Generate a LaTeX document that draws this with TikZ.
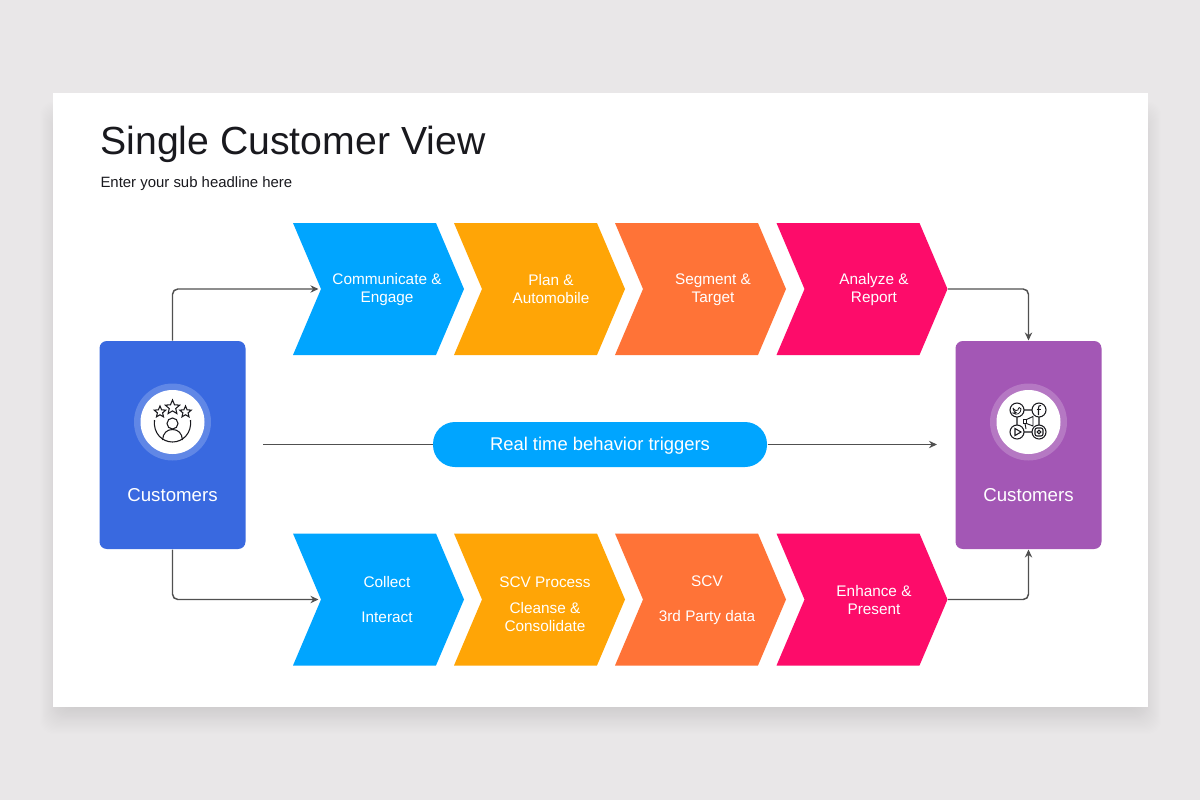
\documentclass[tikz,border=0pt]{standalone}
\usepackage{fontspec}
\setmainfont{Liberation Sans}
\usetikzlibrary{shapes.symbols,shapes.geometric,arrows.meta}

\definecolor{pagegrey}{RGB}{233,231,232}
\definecolor{shadowdark}{RGB}{208,206,207}
\definecolor{custblue}{RGB}{57,105,224}
\definecolor{custpurple}{RGB}{163,87,181}
\definecolor{skyblue}{RGB}{0,165,255}
\definecolor{amber}{RGB}{255,165,6}
\definecolor{coral}{RGB}{255,115,55}
\definecolor{magenta2}{RGB}{253,12,106}
\definecolor{linegrey}{RGB}{80,80,80}
\definecolor{inkblack}{RGB}{25,25,30}

\tikzset{
  every picture/.style={line width=0.75pt},
  chevron/.style={shape=signal,signal from=west,signal to=east,signal pointer angle=134,
    minimum width=171*0.75pt,minimum height=132*0.75pt,inner sep=0pt,draw=none},
  chevlabel/.style={text=white,font=\fontsize{11.5}{13.5}\selectfont,align=center,inner sep=0pt},
  custcard/.style={draw=none,rounded corners=5.5pt,minimum width=146*0.75pt,minimum height=208*0.75pt,inner sep=0pt},
  cardlabel/.style={text=white,font=\fontsize{14}{16}\selectfont,inner sep=0pt},
  flow/.style={draw=linegrey,line width=1.1pt,rounded corners=4pt},
  flowtip/.style={flow,-{Stealth[length=6pt,width=5.5pt]}},
  icon/.style={draw=inkblack,line width=0.8pt,fill=none},
}

\begin{document}
\begin{tikzpicture}[x=0.75pt,y=0.75pt,yscale=-1,xscale=1]

\useasboundingbox (0,0) rectangle (1200,800);
\fill [pagegrey] (0,0) rectangle (1200,800);

% sheet and its shadow
\foreach \g [evaluate=\g as \p using {100-100*\g/24}] in {24,23,...,0}
  \fill [shadowdark!\p!pagegrey,rounded corners=10pt] (61-0.9*\g,125-\g) rectangle (1140+0.9*\g,707+1.15*\g);
\fill [white] (53,93) rectangle (1148,707);

\node [anchor=west,inner sep=0pt,text=inkblack,font=\fontsize{29.4}{34}\selectfont] (title) at (100,144) {Single Customer View};
\node [anchor=west,inner sep=0pt,text=inkblack,font=\fontsize{11.2}{13}\selectfont] (subhead) at (100,184) {Enter your sub headline here};

% top row
\node [chevron,fill=skyblue] (comm) at (378.5,289) {};
\node [chevron,fill=amber] (plan) at (539.5,289) {};
\node [chevron,fill=coral] (segment) at (700.5,289) {};
\node [chevron,fill=magenta2] (analyze) at (862,289) {};

% bottom row
\node [chevron,fill=skyblue] (collect) at (378.5,599.5) {};
\node [chevron,fill=amber] (scvproc) at (539.5,599.5) {};
\node [chevron,fill=coral] (scvdata) at (700.5,599.5) {};
\node [chevron,fill=magenta2] (enhance) at (862,599.5) {};

\node [chevlabel] (commtext) at (387,290) {Communicate \&\\Engage};
\node [chevlabel] (plantext) at (551,289.5) {Plan \&\\Automobile};
\node [chevlabel] (segmenttext) at (713,290) {Segment \&\\Target};
\node [chevlabel] (analyzetext) at (874,290) {Analyze \&\\Report};
\node [chevlabel] (collecttext) at (387,600) {Collect\\[12.75pt]Interact};
\node [chevlabel] (scvproctext) at (545,604.5) {SCV Process\\[6pt]Cleanse \&\\Consolidate};
\node [chevlabel] (scvdatatext) at (707,600.5) {SCV\\[12.75pt]3rd Party data};
\node [chevlabel] (enhancetext) at (874,600.5) {Enhance \&\\Present};

% customer cards
\node [custcard,fill=custblue] (custin) at (172.5,445) {};
\node [custcard,fill=custpurple] (custout) at (1028.5,445) {};
\node [cardlabel] (custinlabel) at (172.5,495.5) {Customers};
\node [cardlabel] (custoutlabel) at (1028.5,495.5) {Customers};

% trigger bar
\node [draw=none,fill=skyblue,rounded corners=16.5pt,minimum width=334*0.75pt,minimum height=45*0.75pt,inner sep=0pt,
  text height=12pt,text depth=2.5pt,text=white,font=\fontsize{13.8}{16}\selectfont] (trigger) at (600,444.5) {Real time behavior triggers};
\coordinate (trigstart) at (263,444.5);
\coordinate (trigend) at (937,444.5);

\draw [flow] (trigstart) -- (trigger.west);
\draw [flowtip] (trigger.east) -- (trigend);

\draw [flowtip,shorten >=1.5pt] (custin.north) |- (comm.west);
\draw [flowtip,shorten >=1.5pt] (custin.south) |- (collect.west);
\draw [flowtip] (analyze.east) -| (custout.north);
\draw [flowtip] (enhance.east) -| (custout.south);

% left icon
\fill [white,opacity=0.2] (172.5,422) circle (38.5);
\fill [white] (172.5,422) circle (32);
\node [icon,star,star points=5,star point ratio=2.2,minimum size=15*0.75pt,inner sep=0pt] (starmid) at (172.5,407.5) {};
\node [icon,star,star points=5,star point ratio=2.2,minimum size=12*0.75pt,inner sep=0pt] (starleft) at (160,412) {};
\node [icon,star,star points=5,star point ratio=2.2,minimum size=12*0.75pt,inner sep=0pt] (starright) at (185.5,412) {};
\draw [icon] (172.5,423.5) circle (5.5);
\draw [icon] (162.5,440) .. controls (163,433) and (167,429.5) .. (172.5,429.5) .. controls (178,429.5) and (182,433) .. (182.5,440);
\draw [icon] (154.5,420) .. controls (153,433) and (162,442) .. (172.5,442) .. controls (183,442) and (192,433) .. (190.5,420);

% right icon
\fill [white,opacity=0.2] (1028.5,422) circle (38.5);
\fill [white] (1028.5,422) circle (32);
\draw [icon,rounded corners=2pt] (1017,410) rectangle (1039,432);
\foreach \cx/\cy in {1017/410,1039/410,1017/432,1039/432}
  \draw [icon,fill=white] (\cx,\cy) circle (7);
% bird
\draw [icon,line width=0.6pt] (1013,408) .. controls (1015,411) and (1017,411) .. (1018,410) .. controls (1018,407) and (1021,407) .. (1021,409) .. controls (1021,413) and (1017,416) .. (1013,413) .. controls (1015,413) and (1016,412.5) .. (1016,412.5) .. controls (1014,412) and (1013,410) .. (1013,408);
% f
\draw [icon] (1041,405.5) .. controls (1039,405) and (1038.5,406.5) .. (1038.5,408) -- (1038.5,415);
\draw [icon] (1036.5,409.5) -- (1041,409.5);
% play
\draw [icon] (1015,428.5) -- (1021,432) -- (1015,435.5) -- cycle;
% camera
\draw [icon,rounded corners=1.5pt] (1035,428) rectangle (1043,436);
\draw [icon] (1039,432) circle (1.8);
% megaphone
\draw [icon,line width=0.7pt] (1026.5,419.5) -- (1033,416.5) -- (1033,426) -- (1026.5,423.5) -- cycle;
\draw [icon,line width=0.7pt] (1026.5,419.5) -- (1023.5,419.5) -- (1023.5,423.5) -- (1026.5,423.5) (1025,423.5) -- (1026,429);

\end{tikzpicture}
\end{document}
